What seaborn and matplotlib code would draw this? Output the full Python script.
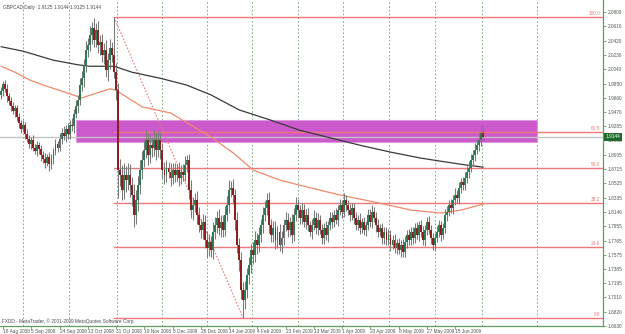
import matplotlib
matplotlib.use("Agg")
import matplotlib.pyplot as plt
import matplotlib.transforms as mtransforms
from matplotlib.patches import Rectangle
import seaborn as sns
import pandas as pd

sns.set_theme(style="white")
plt.rcParams['font.family'] = ['Liberation Sans', 'DejaVu Sans']

# ---------------- data ----------------
closes = [
    1.975, 1.985, 1.978, 1.968, 1.962, 1.955, 1.948, 1.952, 1.940, 1.932,
    1.925, 1.930, 1.918, 1.912, 1.905, 1.910, 1.900, 1.895, 1.903, 1.898,
    1.890, 1.885, 1.880, 1.888, 1.878, 1.885, 1.895, 1.905, 1.900, 1.912,
    1.920, 1.915, 1.925, 1.918, 1.930, 1.928, 1.945, 1.955, 1.963, 1.983,
    1.992, 2.010, 2.030, 2.036, 2.050, 2.059, 2.043, 2.056, 2.036, 2.040,
    2.023, 2.030, 2.003, 2.016, 2.032, 2.023, 2.000, 1.976, 1.870, 1.864,
    1.844, 1.864, 1.857, 1.864, 1.850, 1.837, 1.811, 1.830, 1.850, 1.870,
    1.884, 1.897, 1.910, 1.890, 1.903, 1.900, 1.910, 1.897, 1.910, 1.897,
    1.870, 1.864, 1.873, 1.868, 1.860, 1.870, 1.864, 1.870, 1.860, 1.868,
    1.864, 1.877, 1.884, 1.844, 1.817, 1.824, 1.830, 1.811, 1.797, 1.791,
    1.801, 1.777, 1.767, 1.775, 1.764, 1.788, 1.797, 1.807, 1.793, 1.801,
    1.791, 1.811, 1.824, 1.844, 1.846, 1.837, 1.804, 1.771, 1.751, 1.711,
    1.698, 1.711, 1.731, 1.744, 1.764, 1.757, 1.777, 1.771, 1.784, 1.797,
    1.811, 1.820, 1.830, 1.797, 1.784, 1.793, 1.777, 1.788, 1.771, 1.780,
    1.797, 1.804, 1.791, 1.801, 1.784, 1.811, 1.824, 1.817, 1.807, 1.817,
    1.801, 1.811, 1.797, 1.788, 1.797, 1.807, 1.793, 1.804, 1.791, 1.780,
    1.793, 1.784, 1.797, 1.807, 1.801, 1.811, 1.804, 1.817, 1.824, 1.815,
    1.830, 1.824, 1.817, 1.811, 1.820, 1.807, 1.797, 1.804, 1.793, 1.801,
    1.791, 1.797, 1.811, 1.801, 1.815, 1.807, 1.797, 1.788, 1.793, 1.780,
    1.788, 1.777, 1.784, 1.771, 1.777, 1.767, 1.773, 1.764, 1.771, 1.761,
    1.775, 1.784, 1.777, 1.788, 1.780, 1.793, 1.784, 1.797, 1.788, 1.777,
    1.791, 1.801, 1.791, 1.780, 1.771, 1.780, 1.788, 1.797, 1.784, 1.793,
    1.811, 1.815, 1.824, 1.820, 1.830, 1.837, 1.833, 1.846, 1.854, 1.850,
    1.860, 1.868, 1.873, 1.884, 1.890, 1.897, 1.903, 1.910, 1.919, 1.9144,
]
first_open = 1.970

# wick lengths in pips (0.0001)
upper_wick = [
    60, 40, 50, 70, 40, 50, 60, 40, 50, 60,
    50, 70, 40, 60, 50, 40, 70, 50, 60, 40,
    60, 50, 80, 40, 60, 70, 50, 60, 40, 70,
    60, 80, 50, 70, 60, 90, 60, 80, 70, 90,
    100, 80, 120, 90, 110, 80, 130, 100, 120, 90,
    110, 90, 130, 100, 120, 80, 500, 120, 100, 150,
    130, 160, 120, 150, 140, 110, 150, 130, 120, 140,
    110, 130, 130, 100, 120, 110, 130, 100, 120, 110,
    90, 110, 100, 80, 120, 90, 100, 80, 110, 90,
    100, 120, 60, 80, 130, 110, 90, 120, 100, 80,
    110, 90, 120, 100, 80, 130, 110, 90, 120, 100,
    90, 110, 120, 130, 100, 120, 80, 110, 90, 100,
    100, 120, 90, 110, 80, 100, 120, 90, 110, 80,
    100, 90, 100, 110, 80, 90, 100, 80, 110, 90,
    80, 100, 90, 70, 110, 90, 100, 80, 70, 90,
    80, 70, 90, 60, 80, 100, 70, 90, 60, 80,
    70, 90, 60, 80, 70, 60, 90, 70, 80, 60,
    90, 70, 60, 80, 70, 60, 80, 70, 90, 60,
    70, 60, 80, 70, 90, 60, 70, 80, 60, 70,
    60, 70, 80, 60, 70, 80, 60, 70, 60, 80,
    70, 60, 80, 70, 60, 70, 80, 60, 70, 80,
    60, 70, 80, 60, 70, 60, 80, 70, 60, 70,
    80, 70, 60, 80, 70, 90, 70, 80, 60, 70,
    80, 70, 90, 80, 70, 90, 80, 100, 120, 110,
]
lower_wick = [
    50, 60, 40, 70, 50, 60, 40, 70, 50, 60,
    60, 40, 70, 50, 60, 70, 50, 40, 60, 70,
    80, 60, 70, 50, 90, 60, 70, 50, 60, 50,
    70, 50, 80, 60, 70, 60, 80, 60, 90, 70,
    80, 110, 90, 100, 80, 120, 100, 90, 110, 130,
    100, 120, 90, 150, 110, 100, 80, 130, 370, 150,
    140, 120, 160, 130, 150, 140, 160, 130, 140, 120,
    120, 100, 110, 130, 100, 120, 110, 130, 100, 120,
    110, 120, 100, 90, 110, 80, 100, 90, 110, 80,
    90, 80, 100, 120, 110, 130, 100, 120, 90, 110,
    120, 100, 130, 110, 90, 120, 100, 110, 90, 120,
    100, 90, 80, 110, 100, 120, 130, 110, 150, 120,
    240, 130, 110, 120, 100, 110, 90, 120, 100, 90,
    100, 80, 90, 110, 100, 90, 120, 100, 90, 110,
    90, 80, 100, 90, 110, 80, 90, 100, 80, 90,
    70, 90, 80, 60, 90, 70, 80, 90, 60, 80,
    80, 70, 90, 60, 80, 70, 60, 80, 70, 90,
    70, 80, 60, 90, 70, 80, 60, 70, 80, 60,
    70, 80, 60, 70, 80, 60, 90, 70, 60, 80,
    80, 60, 70, 90, 60, 70, 80, 60, 90, 70,
    60, 80, 70, 60, 80, 70, 60, 80, 70, 60,
    80, 70, 60, 80, 70, 90, 60, 70, 80, 60,
    70, 80, 60, 70, 80, 60, 70, 80, 60, 70,
    60, 70, 80, 60, 70, 80, 60, 70, 80, 60,
]

# moving averages (read at sparse bars)
ma_slow_bar = [0, 11, 26, 38, 44, 56, 65, 79, 92, 104, 118, 133, 148, 163, 178, 193, 208, 220, 230, 239]
ma_slow_val = [2.034, 2.028, 2.016, 2.010, 2.008, 2.008, 2.000, 1.992, 1.983, 1.970,
               1.950, 1.937, 1.923, 1.913, 1.903, 1.894, 1.886, 1.881, 1.877, 1.874]
ma_fast_bar = [0, 7, 14, 22, 29, 40, 54, 57, 70, 84, 104, 115, 125, 138, 148, 168, 188, 203, 218, 228, 239]
ma_fast_val = [2.008, 2.000, 1.990, 1.982, 1.976, 1.966, 1.978, 1.976, 1.954, 1.946, 1.914,
               1.893, 1.870, 1.857, 1.850, 1.837, 1.826, 1.817, 1.813, 1.817, 1.825]

# fibonacci retracement
fib_high_bar, fib_high = 56, 2.0734
fib_low_bar, fib_low = 120, 1.6736
fib_levels = [1.0, 0.618, 0.5, 0.382, 0.236, 0.0]
fib_labels = ["100.0", "61.8", "50.0", "38.2", "23.6", "0.0"]

# supply zone rectangle
zone_bars = (37.2, 265.6)
zone_prices = (1.9074, 1.9366)

current_price = 1.9144

price_ticks = [2.0800, 2.0610, 2.0420, 2.0230, 2.0040, 1.9850, 1.9660, 1.9470, 1.9285,
               1.9095, 1.8905, 1.8715, 1.8525, 1.8335, 1.8146, 1.7955, 1.7765, 1.7575,
               1.7385, 1.7195, 1.7010, 1.6820, 1.6630]
date_labels = ["18 Aug 2008", "5 Sep 2008", "24 Sep 2008", "13 Oct 2008", "31 Oct 2008",
               "19 Nov 2008", "8 Dec 2008", "26 Dec 2008", "14 Jan 2009", "4 Feb 2009",
               "23 Feb 2009", "13 Mar 2009", "1 Apr 2009", "20 Apr 2009", "8 May 2009",
               "27 May 2009", "15 Jun 2009"]
date_label_bars = [1, 15, 29, 43, 57, 71, 85, 99, 113, 127, 141, 155, 169, 183, 197, 211, 225]
grid_bars = [10.9, 33.7, 57.5, 79.8, 102.1, 124.4, 147.2, 169.5, 192.3, 215.1, 238.3, 265.6]

# ---------------- figure ----------------
opens = [first_open] + closes[:-1]
n = len(closes)
pip = 0.0001
df = pd.DataFrame({
    "bar": range(n),
    "open": opens,
    "close": closes,
})
df["high"] = [max(o, c) + u * pip for o, c, u in zip(opens, closes, upper_wick)]
df["low"] = [min(o, c) - d * pip for o, c, d in zip(opens, closes, lower_wick)]

fig = plt.figure(figsize=(6.25, 3.34), dpi=100)
fig.patch.set_facecolor("white")
ax = fig.add_axes([0.0, 8 / 334, 603 / 625, 326 / 334])
ax.set_facecolor("white")
XMAX = 298.3
ax.set_xlim(-0.5, XMAX)
ax.set_ylim(1.663, 2.096)

grid_col = "#6f9f6f"
axis_col = "#5f9f5f"
fib_col = "#f07878"
txt_col = "#4a5a4a"
FS = 3.4

# vertical dashed grid
for gb in grid_bars:
    ax.axvline(gb, color=grid_col, lw=0.6, ls=(0, (2, 2.5)), zorder=1)

# zone rectangle (background)
ax.add_patch(Rectangle((zone_bars[0], zone_prices[0]), zone_bars[1] - zone_bars[0],
                       zone_prices[1] - zone_prices[0], facecolor="#cc5acc",
                       edgecolor="#dd99dd", lw=0.8, zorder=2))

# current price line
ax.axhline(current_price, color="#c4c4c4", lw=1.0, zorder=3)

# fibonacci
rng = fib_high - fib_low
for lev, lab in zip(fib_levels, fib_labels):
    yv = fib_low + lev * rng
    ax.plot([fib_high_bar, XMAX], [yv, yv], color=fib_col, lw=1.0, zorder=3)
    ax.text(XMAX - 1.5, yv + 0.0012, lab, color=fib_col, fontsize=FS,
            ha="right", va="bottom", zorder=6)
ax.plot([fib_high_bar, fib_low_bar], [fib_high, fib_low], color=fib_col, lw=0.8,
        ls=(0, (1.5, 1.5)), zorder=3)

# moving averages
sns.lineplot(x=ma_slow_bar, y=ma_slow_val, ax=ax, color="#3a3a3a", lw=0.9, zorder=4)
sns.lineplot(x=ma_fast_bar, y=ma_fast_val, ax=ax, color="#f08a6a", lw=0.9, zorder=4)

# candles
ax.vlines(df["bar"], df["low"], df["high"], color="#7a7a7a", lw=0.75, zorder=5)
bull = df["close"] >= df["open"]
body_w = 0.95
ax.bar(df["bar"][bull], (df["close"] - df["open"])[bull].clip(lower=0.0008),
       bottom=df["open"][bull], width=body_w, color="#2f7a55", lw=0, zorder=6)
ax.bar(df["bar"][~bull], (df["open"] - df["close"])[~bull].clip(lower=0.0008),
       bottom=df["close"][~bull], width=body_w, color="#8b2020", lw=0, zorder=6)

# axes styling
for s in ["left", "top"]:
    ax.spines[s].set_visible(False)
for s in ["right", "bottom"]:
    ax.spines[s].set_color(axis_col)
    ax.spines[s].set_linewidth(0.9)
ax.yaxis.tick_right()
ax.set_yticks(price_ticks)
ax.set_yticklabels([f"{v:.4f}" for v in price_ticks])
ax.tick_params(axis="y", colors=axis_col, labelcolor=txt_col, labelsize=FS,
               length=2, width=0.6, pad=1.5, right=True)
ax.set_xticks(date_label_bars)
ax.set_xticklabels(date_labels)
ax.tick_params(axis="x", colors=axis_col, labelcolor=txt_col, labelsize=FS,
               length=2, width=0.6, pad=0.3, bottom=True)
for lbl in ax.get_xticklabels():
    lbl.set_ha("left")
ax.grid(False)

# current price tag
trans = mtransforms.blended_transform_factory(ax.transAxes, ax.transData)
ax.text(1.004, current_price, f"{current_price:.4f}", transform=trans, fontsize=FS,
        color="white", va="center", ha="left", clip_on=False, zorder=10,
        bbox=dict(boxstyle="square,pad=0.3", fc="#1f6a2a", ec="none"))

# header & footer texts
ax.text(0.005, 0.985, "GBPCAD,Daily  1.9125 1.9144 1.9125 1.9144", transform=ax.transAxes,
        fontsize=FS, color="#4a4a4a", ha="left", va="top", zorder=10)
ax.text(0.003, 0.006, "FXDD - MetaTrader, \u00a9 2001-2009 MetaQuotes Software Corp.",
        transform=ax.transAxes, fontsize=FS, color="#4a4a4a", ha="left", va="bottom",
        zorder=10)

fig.savefig("out.png", dpi=100)
